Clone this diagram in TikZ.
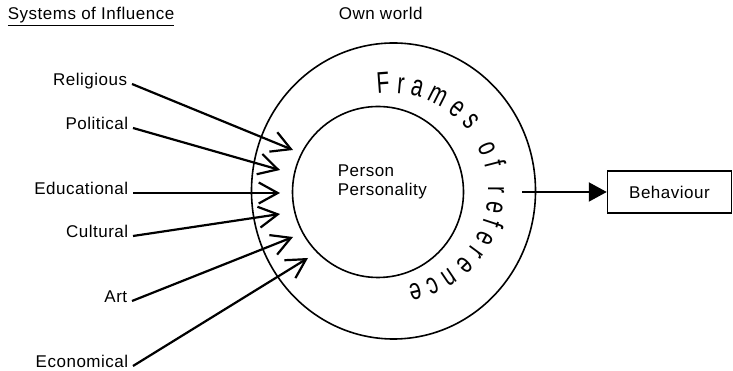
\documentclass[tikz,border=0pt]{standalone}
\usepackage{fontspec}
\setmainfont{Liberation Sans}[LetterSpace=3]
\newfontfamily\ringfont{Liberation Sans}[FakeStretch=0.7]
\usetikzlibrary{arrows.meta,decorations.text}

\begin{document}
\begin{tikzpicture}[x=1pt,y=1pt,line width=1.6pt,font=\fontsize{17}{19}\selectfont,
  infl/.style={anchor=base east,inner sep=0pt},
  inflarrow/.style={-{Straight Barb[length=19pt,width=21pt]},line width=2.2pt}]
\useasboundingbox (0,0) rectangle (733,371);
% titles
\node[anchor=base west,inner sep=0pt] (sys) at (7,351) {\underline{Systems of Influence}};
\node[anchor=base west,inner sep=0pt] (own) at (338,351) {Own world};
% own world, and the person inside it
\draw (393.5,180) ellipse[x radius=142,y radius=148];
\draw (378,179) circle[radius=85.5];
\node[align=left,anchor=west,inner sep=0pt] (pers) at (337,189.5) {Person\\Personality};
% frames of reference, round the ring
\path[decorate,decoration={text along path,text align={fit to path},
  text={|\ringfont\fontsize{30}{30}\selectfont|Frames of reference}}]
  (391,181) ++(98:97) arc[start angle=98,end angle=-80,radius=97];
% systems of influence, pointing in
\node[infl] (rel) at (128,285) {Religious};
\node[infl] (pol) at (129,241) {Political};
\node[infl] (edu) at (129,176) {Educational};
\node[infl] (cul) at (129,133) {Cultural};
\node[infl] (art) at (128,68) {Art};
\node[infl] (eco) at (129,3) {Economical};
\coordinate (reltip) at (293,221);
\coordinate (poltip) at (280,201);
\coordinate (edutip) at (280,178);
\coordinate (cultip) at (280,157);
\coordinate (arttip) at (293,134);
\coordinate (ecotip) at (308,113);
\draw[inflarrow] ([shift={(4,2)}]rel.base east) -- (reltip);
\draw[inflarrow] ([shift={(4,2)}]pol.base east) -- (poltip);
\draw[inflarrow] ([shift={(4,2)}]edu.base east) -- (edutip);
\draw[inflarrow] ([shift={(4,2)}]cul.base east) -- (cultip);
\draw[inflarrow] ([shift={(4,2)}]art.base east) -- (arttip);
\draw[inflarrow] ([shift={(4,2)}]eco.base east) -- (ecotip);
% behaviour, coming out
\node[draw,line width=1.5pt,minimum width=124pt,minimum height=42pt] (beh) at (669.5,179) {Behaviour};
\coordinate (ringout) at (522,179);
\draw[-{Triangle[length=18pt,width=19pt]},line width=2.2pt] (ringout) -- (beh);
\end{tikzpicture}
\end{document}
